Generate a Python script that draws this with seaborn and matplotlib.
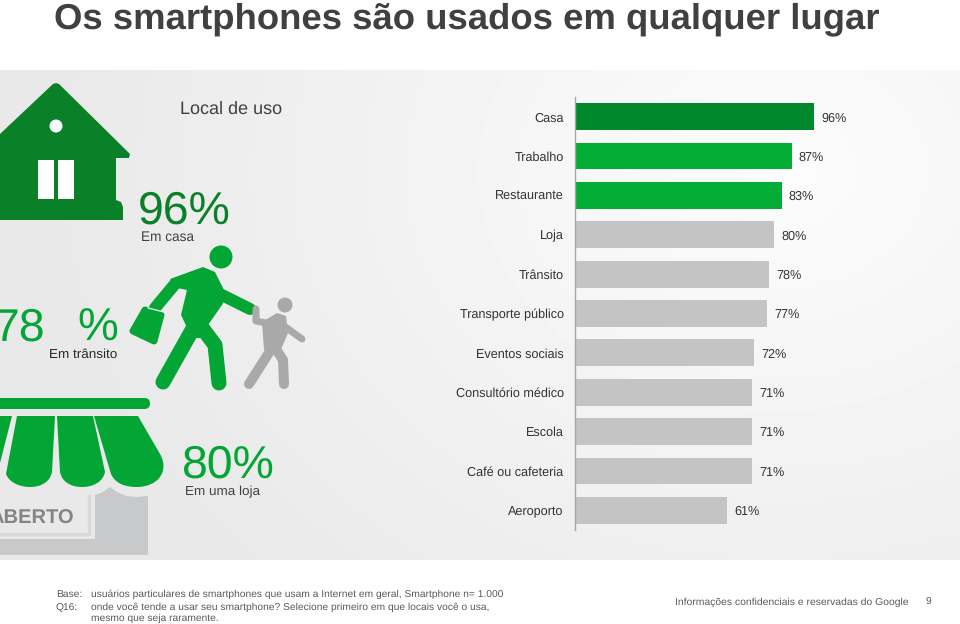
import numpy as np
import pandas as pd
import matplotlib
matplotlib.use('Agg')
import matplotlib.pyplot as plt
from matplotlib.patches import Circle, FancyBboxPatch, PathPatch, Polygon, Rectangle
from matplotlib.path import Path
import seaborn as sns

locais = ['Casa', 'Trabalho', 'Restaurante', 'Loja', 'Trânsito', 'Transporte público',
          'Eventos sociais', 'Consultório médico', 'Escola', 'Café ou cafeteria', 'Aeroporto']
valores = [96, 87, 83, 80, 78, 77, 72, 71, 71, 71, 61]
cores = ['#00892c', '#03ad36', '#03ad36'] + ['#c4c4c4'] * 8

titulo = 'Os smartphones são usados em qualquer lugar'
rodape_base = 'usuários particulares de smartphones que usam a Internet em geral, Smartphone n= 1.000'
rodape_q16 = 'onde você tende a usar seu smartphone? Selecione primeiro em que locais você o usa,'
rodape_q16b = 'mesmo que seja raramente.'

VERDE = '#03a534'
VERDE_ESCURO = '#0a8029'
CINZA = '#a9a9a9'
TEXTO = '#404040'

sns.set_theme(style='white')
plt.rcParams['font.family'] = ['Liberation Sans', 'DejaVu Sans']
plt.rcParams['text.hinting'] = 'no_hinting'

fig = plt.figure(figsize=(9.6, 6.24), dpi=100, facecolor='white')

# camada de fundo em coordenadas de pixel
bg = fig.add_axes([0, 0, 1, 1])
bg.axis('off')

# painel com degradê
yy, xx = np.mgrid[70:560:245j, 0:960:480j]
dist = np.hypot(xx - 780, (yy - 170) * 1.25)
fundo = 252 - 19 * np.clip(dist / 720, 0, 1)
bg.imshow(fundo, extent=(0, 960, 560, 70), cmap='gray', vmin=0, vmax=255, aspect='auto', zorder=0)
bg.set_xlim(0, 960)
bg.set_ylim(624, 0)


def traco(xs, ys, larg, cor, z=3):
    bg.plot(xs, ys, color=cor, lw=larg * 0.72, solid_capstyle='round', solid_joinstyle='round', zorder=z)


def gomo(v, cor=VERDE):
    # gomo do toldo: dois pontos de cima, lado, e duas curvas embaixo
    M, L, C, F = Path.MOVETO, Path.LINETO, Path.CURVE4, Path.CLOSEPOLY
    bg.add_patch(PathPatch(Path(v, [M, L, L, C, C, C, C, C, C, F]), facecolor=cor, edgecolor='none', zorder=2))


# casa
bg.add_patch(Polygon([(0, 134), (53, 84), (56, 83), (59, 84), (130, 154), (129, 158), (116, 158),
                      (116, 200), (121, 202), (123, 207), (123, 220), (0, 220)],
                     closed=True, facecolor=VERDE_ESCURO, edgecolor='none', zorder=2))
bg.add_patch(Circle((56, 126), 6.5, facecolor='white', edgecolor='none', zorder=3))
bg.add_patch(Rectangle((38, 160), 15.5, 39, facecolor='white', edgecolor='none', zorder=3))
bg.add_patch(Rectangle((58, 160), 16, 39, facecolor='white', edgecolor='none', zorder=3))

# pessoa verde
bg.add_patch(Circle((221, 257), 11.5, facecolor=VERDE, edgecolor='none', zorder=3))
bg.add_patch(Polygon([(170, 279), (203, 267), (215, 272), (227, 296), (222, 305), (208, 325), (213, 338),
                      (192, 338), (181, 315), (187, 290), (177, 288)],
                     closed=True, facecolor=VERDE, edgecolor='none', zorder=3))
traco([175, 155], [284, 308], 12, VERDE)
traco([222, 250], [295, 309], 12, VERDE)
traco([195, 163], [325, 382], 15, VERDE)
traco([200, 215, 219], [325, 345, 383], 15, VERDE)
bg.add_patch(Polygon([(133, 331), (145, 310), (161, 315), (154, 341)], closed=True, facecolor=VERDE,
                     edgecolor=VERDE, lw=5, joinstyle='round', zorder=3))
bg.plot([148, 164], [308, 312], color='#e9e9e9', lw=1, zorder=4)

# pessoa cinza
bg.add_patch(Circle((285, 305), 7.5, facecolor=CINZA, edgecolor='none', zorder=3))
bg.add_patch(Polygon([(262, 322), (277, 313), (286, 316), (288, 333), (280, 352), (264, 350)],
                     closed=True, facecolor=CINZA, edgecolor='none', zorder=3))
traco([284, 302], [326, 339], 7, CINZA)
traco([266, 256, 256], [323, 321, 309], 7, CINZA)
traco([272, 249], [348, 384], 10, CINZA)
traco([274, 283, 284], [346, 360, 384], 10, CINZA)

# loja
bg.add_patch(FancyBboxPatch((-10, 398), 160, 11, boxstyle='round,pad=0,rounding_size=5.5',
                            facecolor=VERDE, edgecolor='none', zorder=3))
gomo([(94, 416), (138, 416), (160, 454), (170, 472), (157, 487), (137, 487), (124, 487), (115, 483), (111, 474), (94, 416)])
gomo([(57, 416), (93, 416), (105, 472), (103, 482), (93, 487), (82, 487), (71, 487), (62, 482), (60, 472), (57, 416)])
gomo([(17, 416), (55, 416), (52, 472), (50, 482), (41, 487), (30, 487), (19, 487), (9, 482), (6, 474), (17, 416)])
bg.add_patch(Polygon([(0, 416), (12, 416), (0, 463)], closed=True, facecolor=VERDE, edgecolor='none', zorder=2))
bg.add_patch(Polygon([(95, 495), (103, 492), (110, 487), (117, 492), (126, 496), (137, 497), (148, 496), (148, 555), (0, 555),
                      (0, 539), (95, 539)],
                     closed=True, facecolor='#c8c9ca', edgecolor='none', zorder=1))
bg.plot([0, 89, 89], [534, 534, 496], color='#d8d9da', lw=2.4, zorder=1)
bg.text(74, 519, 'ABERTO', ha='right', va='center', fontsize=14.5, fontweight='bold', color='#858585', zorder=2)

# textos soltos
bg.text(54, 28, titulo, ha='left', va='baseline', fontsize=26.26, fontweight='bold', color=TEXTO)
bg.text(180, 114, 'Local de uso', ha='left', va='baseline', fontsize=13, color=TEXTO)
bg.text(138, 224, '96%', ha='left', va='baseline', fontsize=33.4, color=VERDE_ESCURO)
bg.text(141, 241, 'Em casa', ha='left', va='baseline', fontsize=9.8, color=TEXTO)
bg.text(45, 341, '78', ha='right', va='baseline', fontsize=33.4, color=VERDE)
bg.text(77, 341, '%', ha='left', va='baseline', fontsize=33, color=VERDE)
bg.text(49, 358, 'Em trânsito', ha='left', va='baseline', fontsize=9.7, color='#262626')
bg.text(182, 478, '80%', ha='left', va='baseline', fontsize=33.4, color=VERDE)
bg.text(185, 495, 'Em uma loja', ha='left', va='baseline', fontsize=9.7, color=TEXTO)

# rodapé
for x, y, t in [(56, 597, 'Base:'), (91, 597, rodape_base), (56, 610, 'Q16:'), (91, 610, rodape_q16),
                (91, 621, rodape_q16b)]:
    bg.text(x, y, t, ha='left', va='baseline', fontsize=7.38, color='#595959')
bg.text(675, 605, 'Informações confidenciais e reservadas do Google', ha='left', va='baseline',
        fontsize=7.45, color='#595959')
bg.text(926, 605, '9', ha='left', va='baseline', fontsize=7.45, color='#595959')

# gráfico de barras
df = pd.DataFrame({'local': locais, 'valor': valores})
ax = fig.add_axes([575 / 960, (624 - 530) / 624, 249 / 960, 433 / 624])
ax.patch.set_alpha(0)
sns.barplot(data=df, x='valor', y='local', hue='local', palette=cores, dodge=False, legend=False,
            width=0.68, ax=ax, saturation=1, edgecolor='none', linewidth=0)
ax.set_xlim(0, 100)
ax.set_ylim(10.5, -0.5)
ax.set_xlabel('')
ax.set_ylabel('')
ax.set_xticks([])
ax.tick_params(axis='y', length=0, pad=8.2, labelsize=9.1, labelcolor='#333333')
sns.despine(ax=ax, left=False, bottom=True, top=True, right=True)
ax.spines['left'].set_color('#a6a6a6')
ax.spines['left'].set_linewidth(1)
for cont in ax.containers:
    for rotulo in ax.bar_label(cont, fmt='%d%%', padding=5.2, fontsize=9.1, color='#333333'):
        rotulo.set_verticalalignment('center_baseline')

fig.savefig('out.png', dpi=100)
